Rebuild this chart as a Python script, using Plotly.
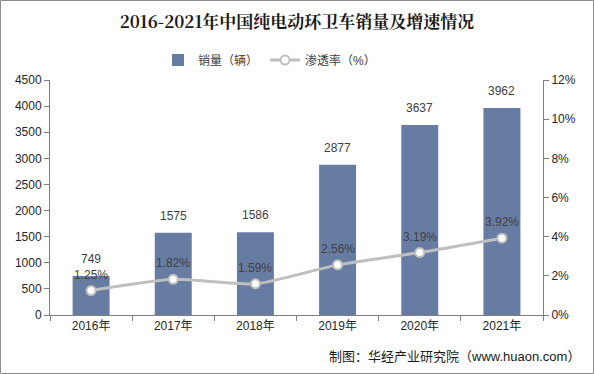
import plotly.graph_objects as go

years = ["2016年", "2017年", "2018年", "2019年", "2020年", "2021年"]
sales = [749, 1575, 1586, 2877, 3637, 3962]
rate = [1.25, 1.82, 1.59, 2.56, 3.19, 3.92]

FONT = "Liberation Sans, Noto Sans CJK SC, sans-serif"
W, H = 594, 374
ML, MR, MT, MB = 50, 51, 80, 59
PW, PH = W - ML - MR, H - MT - MB

fig = go.Figure()
fig.add_trace(go.Bar(
    x=years, y=sales, name="销量（辆）",
    marker=dict(color="#677ca3", line=dict(width=0)),
    width=0.45,
))
fig.add_trace(go.Scatter(
    x=years, y=[r / 100 for r in rate], name="渗透率（%）", yaxis="y2",
    mode="lines+markers",
    line=dict(color="#bfbfbf", width=3, shape="spline", smoothing=0.6),
    marker=dict(color="white", size=9, line=dict(color="#bfbfbf", width=2)),
    cliponaxis=False,
))

annots = []
for x, v in zip(years, sales):
    annots.append(dict(x=x, y=v, xref="x", yref="y", text=str(v), showarrow=False,
                       yanchor="middle", yshift=17, borderpad=0,
                       font=dict(size=12, color="#404040")))
for x, r in zip(years, rate):
    annots.append(dict(x=x, y=r / 100, xref="x", yref="y2", text=f"{r:.2f}%", showarrow=False,
                       yanchor="middle", yshift=16, borderpad=0,
                       font=dict(size=12, color="#404040")))
annots.append(dict(text="制图：华经产业研究院（www.huaon.com）", xref="paper", yref="paper",
                   x=(582 - ML) / PW, xanchor="right", y=-(356 - MT - PH) / PH, yanchor="middle",
                   showarrow=False, font=dict(size=13, color="#1a1a1a")))

fig.update_layout(
    width=W, height=H,
    margin=dict(l=ML, r=MR, t=MT, b=MB),
    paper_bgcolor="white", plot_bgcolor="white",
    font=dict(family=FONT, size=12, color="#262626"),
    title=dict(text="<b>2016-2021年中国纯电动环卫车销量及增速情况</b>",
               x=0.5, xanchor="center", y=1 - 22 / H, yanchor="middle",
               font=dict(size=17, color="#1a1a1a", family="Noto Serif CJK SC, Noto Sans CJK SC, serif")),
    showlegend=True,
    legend=dict(orientation="h", x=(158 - ML) / PW, xanchor="left",
                y=1 + (MT - 60) / PH, yanchor="middle",
                font=dict(size=12, color="#404040"), itemwidth=30, entrywidth=62,
                bgcolor="rgba(0,0,0,0)"),
    bargap=0.55,
    xaxis=dict(type="category", showline=True, linecolor="#7f7f7f", linewidth=1,
               ticks="outside", tickson="boundaries", ticklen=5, tickcolor="#7f7f7f",
               tickfont=dict(size=12, color="#262626"), showgrid=False),
    yaxis=dict(range=[0, 4500], dtick=500, showline=True, linecolor="#7f7f7f",
               ticks="outside", ticklen=5, tickcolor="#7f7f7f", showgrid=False,
               tickfont=dict(size=12, color="#262626"), zeroline=False),
    yaxis2=dict(range=[0, 0.12], dtick=0.02, tickformat=".0%", overlaying="y", side="right",
                showline=True, linecolor="#7f7f7f", ticks="outside", ticklen=5,
                tickcolor="#7f7f7f", showgrid=False, zeroline=False,
                tickfont=dict(size=12, color="#262626")),
    shapes=[dict(type="rect", xref="paper", yref="paper",
                 x0=-(ML - 0.5) / PW, x1=(W - 0.5 - ML) / PW,
                 y0=-(MB - 0.5) / PH, y1=1 + (MT - 0.5) / PH,
                 line=dict(color="#8c8c8c", width=1), fillcolor="rgba(0,0,0,0)")],
    annotations=annots,
)

fig.write_html("out.html", config={"displayModeBar": False},
               post_script="document.body.style.margin='0';document.body.style.padding='0';")
